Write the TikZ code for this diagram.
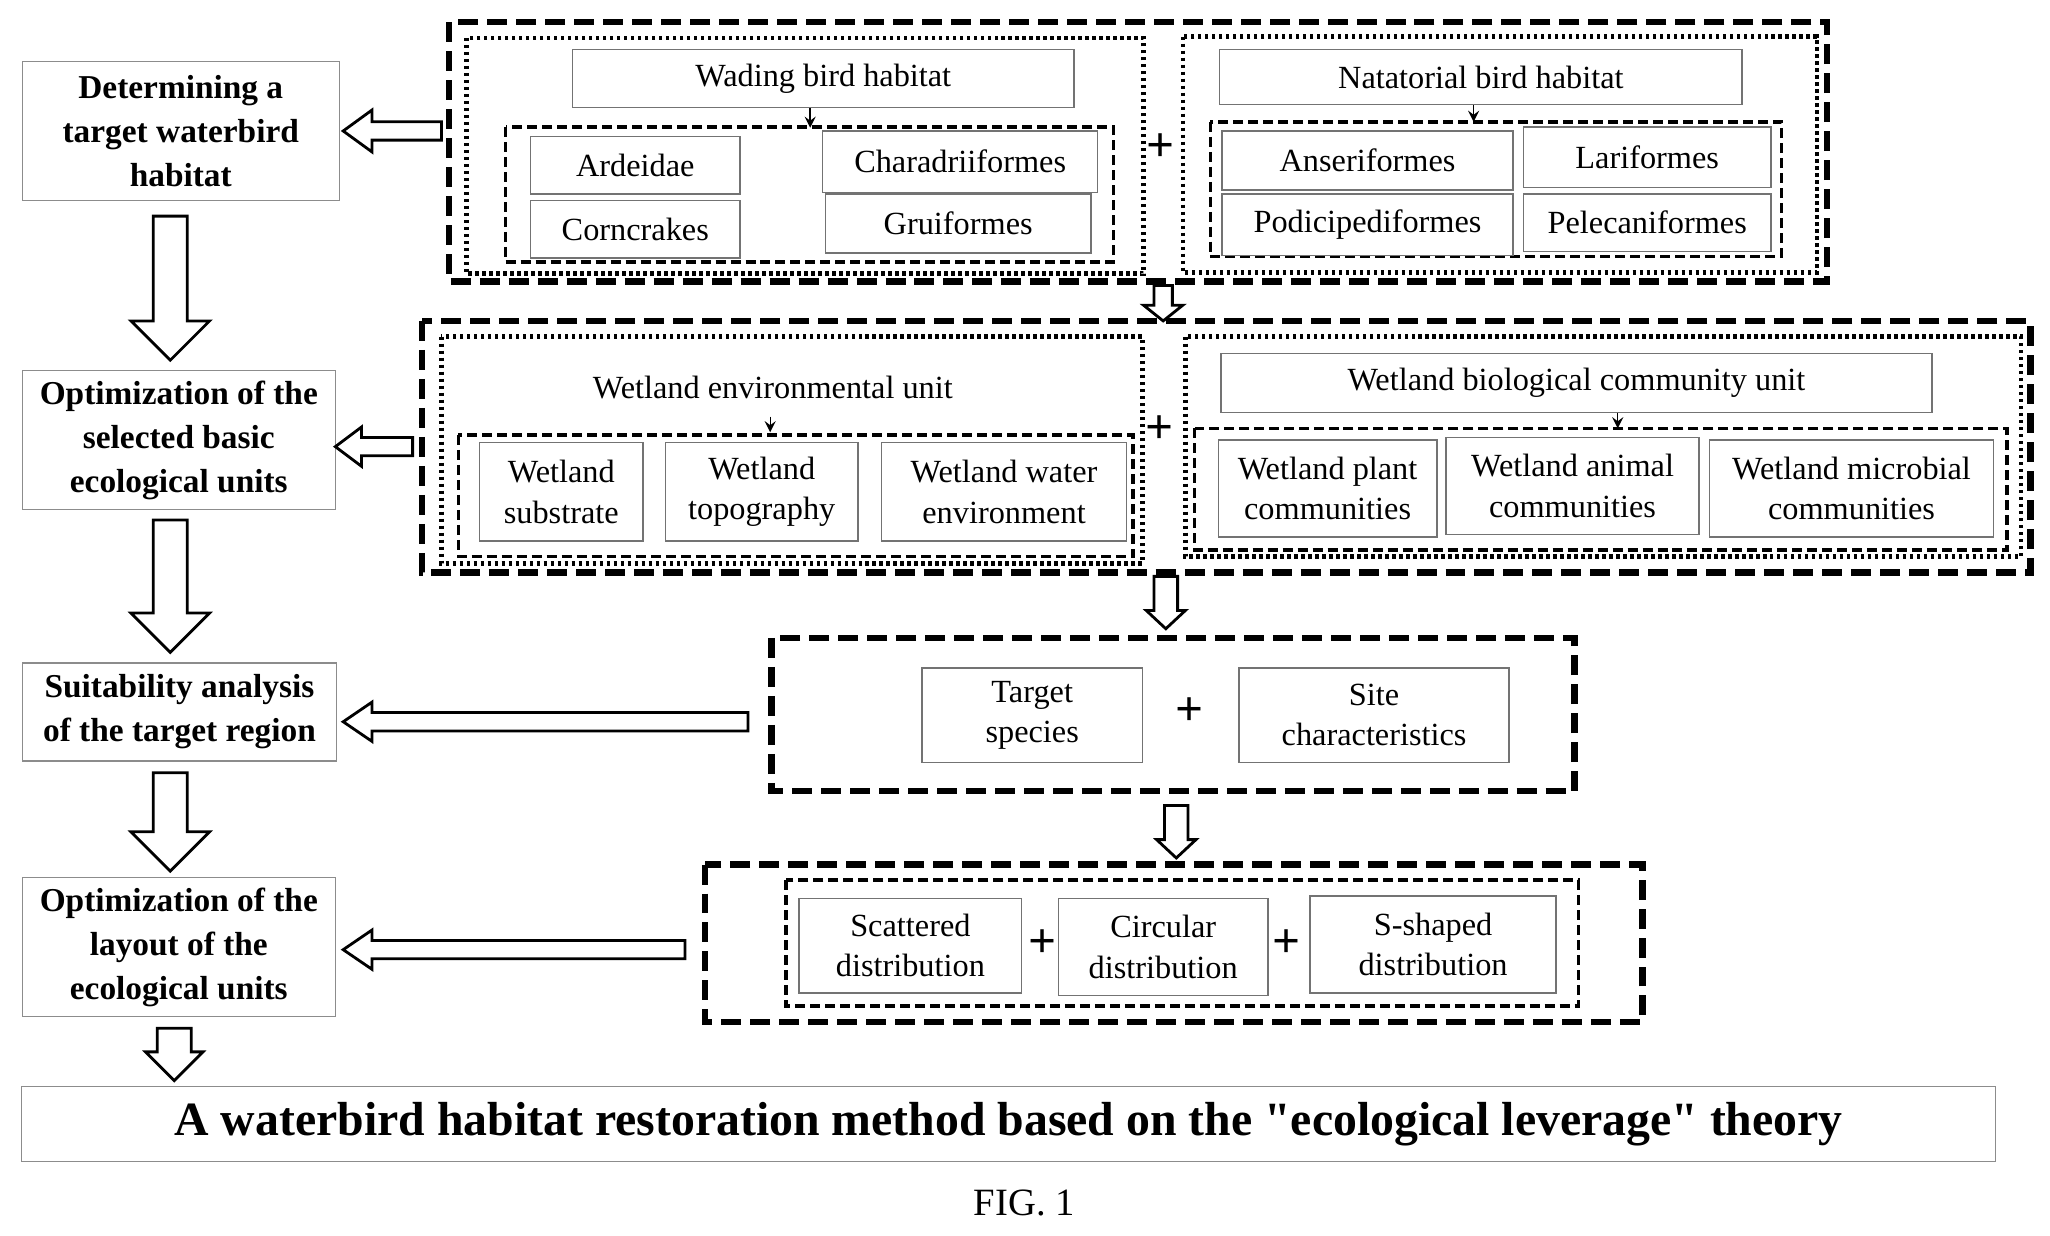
\documentclass[tikz,border=0pt]{standalone}
\usepackage{fontspec}
\setmainfont{Liberation Serif}
\newfontfamily\qf{Liberation Serif}[Ligatures=ResetAll]
\begin{document}
\def\u{0.0131cm}
\begin{tikzpicture}[x=0.0131cm,y=-0.0131cm,
  box/.style={draw=black!55,line width=0.4pt,inner sep=0pt,align=center,font=\fontsize{9.2}{11.5}\selectfont},
  lbox/.style={draw=black!45,line width=0.4pt,inner sep=0pt,align=center,font=\bfseries\fontsize{9.5}{12.5}\selectfont},
  big/.style={line width=1.8pt,dash pattern=on 0.2cm off 0.09cm},
  mid/.style={line width=1pt,dash pattern=on 0.1cm off 0.05cm},
  dot/.style={line width=1.3pt,dash pattern=on 0.035cm off 0.035cm},
  hol/.style={draw=black,line width=0.8pt,fill=white},
  plus/.style={font=\bfseries\fontsize{14}{14}\selectfont,inner sep=0pt}]
\useasboundingbox (0,0) rectangle (1565,943);
\newcommand\bx[7][box]{\node[#1,minimum width={(#5-#3)*\u},minimum height={(#6-#4)*\u}] (#2) at ({(#3+#5)/2},{(#4+#6)/2}) {#7};}
\newcommand\hdown[6]{\draw[hol] ({#1-#4/2},#2) -- ({#1+#4/2},#2) -- ({#1+#4/2},{#3-#6}) -- ({#1+#5/2},{#3-#6}) -- (#1,#3) -- ({#1-#5/2},{#3-#6}) -- ({#1-#4/2},{#3-#6}) -- cycle;}
\newcommand\hleft[6]{\draw[hol] (#1,{#3-#4/2}) -- (#1,{#3+#4/2}) -- ({#2+#6},{#3+#4/2}) -- ({#2+#6},{#3+#5/2}) -- (#2,#3) -- ({#2+#6},{#3-#5/2}) -- ({#2+#6},{#3-#4/2}) -- cycle;}
% left column
\bx[lbox]{L1}{17}{47}{259}{153}{Determining a\\target waterbird\\habitat}
\bx[lbox]{L2}{17}{283}{256}{389}{Optimization of the\\selected basic\\ecological units}
\bx[lbox]{L3}{17}{506}{257}{581}{Suitability analysis\\of the target region}
\bx[lbox]{L4}{17}{670}{256}{776}{Optimization of the\\layout of the\\ecological units}
\node[draw=black!45,line width=0.4pt,minimum width={(1524-17)*\u},minimum height={57*\u},font=\bfseries\fontsize{13.6}{15}\selectfont] (T) at (770,858) {A waterbird habitat restoration method based on the {\qf"}ecological leverage{\qf"} theory};
\hdown{130}{165}{275}{26}{60}{30}
\hdown{130}{397}{498}{26}{60}{30}
\hdown{130}{590}{665}{26}{60}{30}
\hdown{133}{785}{825}{26}{44}{22}
\hleft{337}{262}{100}{14}{32}{22}
\hleft{315}{256}{341}{14}{30}{20}
\hleft{571}{262}{551}{14}{30}{22}
\hleft{523}{262}{725}{14}{30}{22}
% group 1
\draw[big] (343,17) rectangle (1395,215);
\draw[dot] (356,29) rectangle (873,209);
\draw[dot] (903,28) rectangle (1387,208);
\bx{wbh}{437}{38}{820}{82}{Wading bird habitat}
\draw[mid] (386,97) rectangle (850,200);
\bx{ard}{405}{104}{565}{148}{Ardeidae}
\bx{cor}{405}{153}{565}{197}{Corncrakes}
\bx{cha}{628}{100}{838}{147}{Charadriiformes}
\bx{gru}{630}{148}{833}{193}{Gruiformes}
\draw[-stealth,thin] (wbh.south) ++(-10,0) -- ++(0,15);
\node[plus] (p1) at (886,113) {+};
\bx{nbh}{931}{38}{1330}{80}{Natatorial bird habitat}
\draw[mid] (924,93) rectangle (1360,196);
\bx{ans}{933}{100}{1155}{145}{Anseriformes}
\bx{lar}{1163}{97}{1352}{143}{Lariformes}
\bx{pod}{933}{148}{1155}{195}{Podicipediformes}
\bx{pel}{1163}{148}{1352}{192}{Pelecaniformes}
\draw[-stealth,thin] (1125,80) -- (1125,93);
\hdown{888}{218}{245}{14}{30}{12}
% group 2
\draw[big] (322,245) rectangle (1550,437);
\draw[dot] (337,257) rectangle (872,430);
\draw[dot] (905,257) rectangle (1543,425);
\node[font=\fontsize{9.2}{11.5}\selectfont] (weu) at (590,296) {Wetland environmental unit};
\draw[mid] (350,332) rectangle (865,425);
\bx{sub}{366}{338}{491}{413}{Wetland\\substrate}
\bx{top}{508}{338}{655}{413}{Wetland\\topography}
\bx{wat}{673}{338}{860}{413}{Wetland water\\environment}
\draw[-stealth,thin] (588,318) -- (588,330);
\node[plus] (p2) at (885,328) {+};
\bx{wbc}{932}{270}{1475}{315}{Wetland biological community unit}
\draw[mid] (912,327) rectangle (1532,420);
\bx{pla}{930}{336}{1097}{410}{Wetland plant\\communities}
\bx{ani}{1104}{334}{1297}{408}{Wetland animal\\communities}
\bx{mic}{1305}{336}{1522}{410}{Wetland microbial\\communities}
\draw[-stealth,thin] (1235,315) -- (1235,327);
\hdown{890}{440}{480}{18}{30}{14}
% group 3
\draw[big] (589,487) rectangle (1202,604);
\bx{tsp}{704}{510}{872}{582}{Target\\species}
\node[plus] (p3) at (908,543) {+};
\bx{sit}{946}{510}{1152}{582}{Site\\characteristics}
\hdown{898}{615}{655}{18}{30}{14}
% group 4
\draw[big] (538,660) rectangle (1254,780);
\draw[mid] (600,672) rectangle (1205,768);
\bx{sca}{610}{686}{780}{758}{Scattered\\distribution}
\node[plus] (p4) at (796,720) {+};
\bx{cir}{808}{686}{968}{760}{Circular\\distribution}
\node[plus] (p5) at (982,720) {+};
\bx{ssh}{1000}{684}{1188}{758}{S-shaped\\distribution}
\node[font=\fontsize{11}{13}\selectfont] (fig) at (782,918) {FIG. 1};
\end{tikzpicture}
\end{document}
